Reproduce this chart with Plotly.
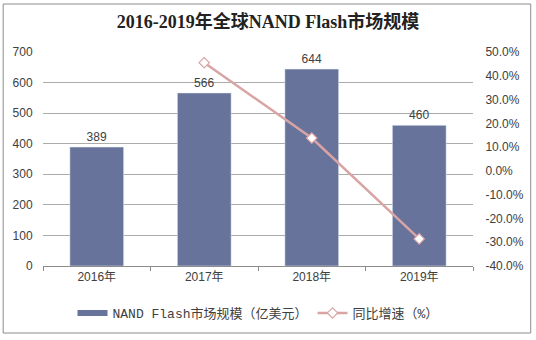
import plotly.graph_objects as go

years = ["2016年", "2017年", "2018年", "2019年"]
market = [389, 566, 644, 460]
growth = [None, 0.455, 0.138, -0.286]
left_ticks = [0, 100, 200, 300, 400, 500, 600, 700]
right_ticks = [-0.4, -0.3, -0.2, -0.1, 0.0, 0.1, 0.2, 0.3, 0.4, 0.5]
right_labels = ["-40.0%", "-30.0%", "-20.0%", "-10.0%", "0.0%", "10.0%", "20.0%", "30.0%", "40.0%", "50.0%"]

W, H = 536, 340
ml, mr, mt, mb = 43, 61, 52, 74

bar_color = "#68739B"
line_color = "#D8A4A4"

fig = go.Figure()
fig.add_trace(go.Bar(
    x=years, y=market, name="NAND Flash市场规模（亿美元）",
    marker_color=bar_color, width=0.5, showlegend=False,
    text=[str(v) for v in market], textposition="outside",
    textfont=dict(size=12, color="#404040", family="Liberation Sans"),
    cliponaxis=False,
))
# legend proxy for the bar series (wide flat swatch)
fig.add_trace(go.Scatter(
    x=[years[0]], y=[None], name="NAND Flash市场规模（亿美元）",
    mode="lines", line=dict(color=bar_color, width=6),
))
fig.add_trace(go.Scatter(
    x=years, y=growth, name="同比增速（%）", yaxis="y2",
    mode="lines+markers",
    line=dict(color=line_color, width=2.5),
    marker=dict(symbol="diamond", size=8, color="white",
                line=dict(color=line_color, width=1.2)),
))

pw = W - ml - mr
ph = H - mt - mb
x0 = (3 - ml) / pw
x1 = (533 - ml) / pw
y0 = 1 - (333 - mt) / ph
y1 = 1 - (4 - mt) / ph

fig.update_layout(
    width=W, height=H,
    margin=dict(l=ml, r=mr, t=mt, b=mb),
    paper_bgcolor="white", plot_bgcolor="white",
    title=dict(text="<b>2016-2019年全球NAND Flash市场规模</b>",
               x=0.5, xanchor="center", y=1 - 22 / H, yanchor="middle",
               font=dict(family="Liberation Serif, Noto Sans CJK SC", size=18, color="#222222")),
    xaxis=dict(showgrid=False, showline=True, linecolor="#8C8C8C", linewidth=1,
               ticks="outside", tickson="boundaries", ticklen=4, tickcolor="#8C8C8C",
               tickfont=dict(family="Liberation Sans, Noto Sans CJK SC", size=12, color="#404040")),
    yaxis=dict(range=[0, 700], tickvals=left_ticks, showgrid=True, gridcolor="#ABABAB", gridwidth=1,
               zeroline=False, showline=False, ticks="outside", ticklen=7, tickcolor="rgba(0,0,0,0)",
               tickfont=dict(family="Liberation Sans", size=12, color="#404040")),
    yaxis2=dict(range=[-0.4, 0.5], tickvals=right_ticks, ticktext=right_labels,
                overlaying="y", side="right",
                showgrid=False, zeroline=False, showline=False,
                ticks="outside", ticklen=9, tickcolor="rgba(0,0,0,0)",
                tickfont=dict(family="Liberation Sans", size=12, color="#404040")),
    legend=dict(orientation="h", x=0.5, xanchor="center", y=1 - (313 - mt) / ph, yanchor="middle",
                font=dict(family="Liberation Mono, Noto Sans CJK SC", size=13, color="#404040"),
                bgcolor="rgba(0,0,0,0)"),
    showlegend=True,
    bargap=0.5,
    shapes=[dict(type="rect", xref="paper", yref="paper", x0=x0, x1=x1, y0=y0, y1=y1,
                 line=dict(color="#8C8C8C", width=1), fillcolor="rgba(0,0,0,0)", layer="below")],
)

fig.write_html("out.html")
